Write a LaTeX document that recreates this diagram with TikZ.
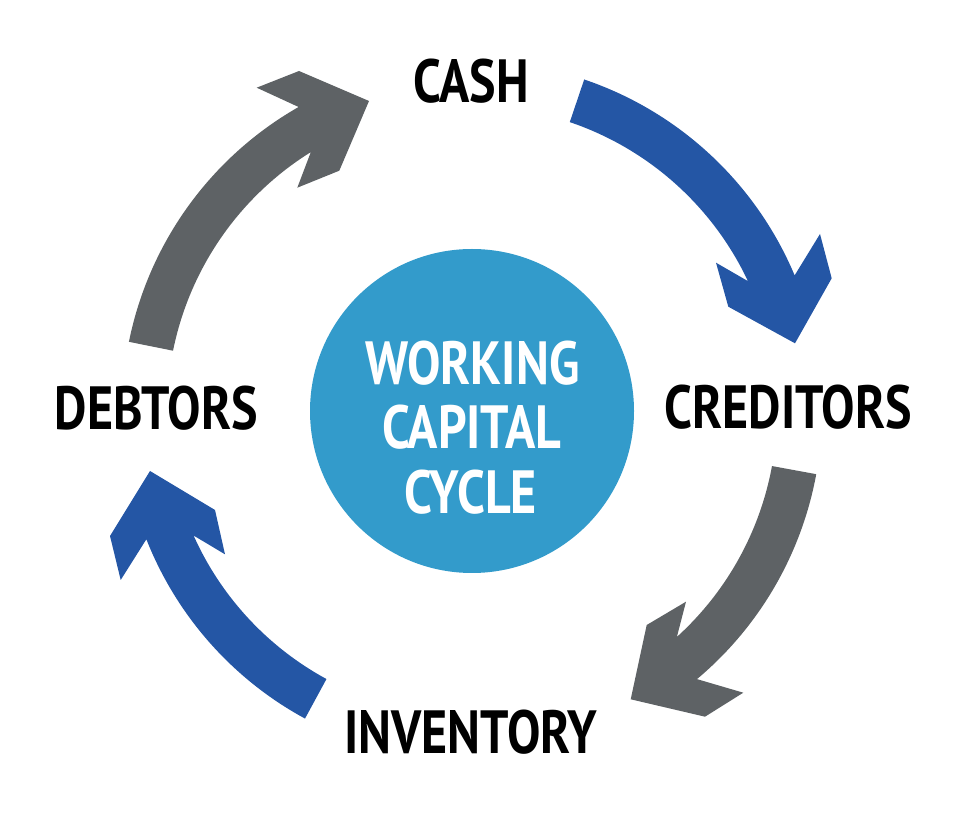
\documentclass[tikz,border=0pt]{standalone}
\usepackage{fontspec}
\newfontfamily\lblfont{PT Sans}[FakeStretch=0.82]
\usetikzlibrary{calc}
\definecolor{arrblue}{HTML}{2456A5}
\definecolor{arrgrey}{HTML}{5E6265}
\definecolor{hubblue}{HTML}{339BCB}
\tikzset{
  lbl/.style={font=\lblfont\bfseries\fontsize{61}{61}\selectfont, anchor=base, inner sep=0pt, text=black},
  hublbl/.style={lbl, text=white},
  bluearrow/.style={fill=arrblue},
  greyarrow/.style={fill=arrgrey}
}
\begin{document}
\begin{tikzpicture}[x=1pt,y=1pt]
\useasboundingbox (0,0) rectangle (975,828);
\coordinate (C) at (472,417);
\node[circle, fill=hubblue, minimum size=324pt, inner sep=0pt] (hub) at (C) {};
% DEBTORS -> CASH
\fill[greyarrow] ($(C)+(168.6:350)$) arc[start angle=168.6, end angle=119.7, radius=350]
  -- (256.7,740.3) -- (299,757) -- (369,727) -- (339.3,657.3) -- (297.3,640.3)
  -- ($(C)+(121.9:305)$) arc[start angle=121.9, end angle=168.6, radius=305] -- cycle;
% CASH -> CREDITORS
\fill[bluearrow] ($(C)+(71.3:350)$) arc[start angle=71.3, end angle=22.8, radius=350]
  -- (820,594) -- (831.7,549.7) -- (795,484.7) -- (728.3,521.3) -- (716,565.3)
  -- ($(C)+(25.2:305)$) arc[start angle=25.2, end angle=71.3, radius=305] -- cycle;
% CREDITORS -> INVENTORY
\fill[greyarrow] ($(C)+(-10.4:350)$) arc[start angle=-10.4, end angle=-50, radius=350]
  -- (743.3,135.3) -- (705,111.3) -- (630.7,128.7) -- (646.7,203) -- (686,226.3)
  -- ($(C)+(-47.8:305)$) arc[start angle=-47.8, end angle=-10.4, radius=305] -- cycle;
% INVENTORY -> DEBTORS
\fill[bluearrow] ($(C)+(-118.5:350)$) arc[start angle=-118.5, end angle=-158.5, radius=350]
  -- (120.7,248) -- (110,292) -- (150,357) -- (215,318) -- (225,273.7)
  -- ($(C)+(-155.9:305)$) arc[start angle=-155.9, end angle=-118.5, radius=305] -- cycle;
% labels
\node[lbl] (cash) at (471.5,725) {CASH};
\node[lbl] (debtors) at (156.5,398) {DEBTORS};
\node[lbl] (creditors) at (788.3,399.7) {CREDITORS};
\node[lbl] (inventory) at (471,74.7) {INVENTORY};
\node[hublbl] (working) at (472.5,443) {WORKING};
\node[hublbl] (capital) at (471.7,379.7) {CAPITAL};
\node[hublbl] (cycle) at (470.8,314.7) {CYCLE};
\end{tikzpicture}
\end{document}
